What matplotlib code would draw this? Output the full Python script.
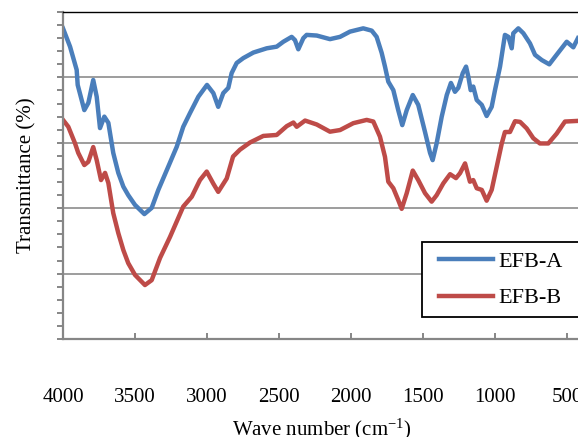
import numpy as np
import matplotlib
matplotlib.use("Agg")
import matplotlib.pyplot as plt
from matplotlib.ticker import MultipleLocator
from matplotlib.patches import Rectangle

plt.rcParams["font.family"] = "Liberation Serif"
plt.rcParams["mathtext.fontset"] = "custom"
plt.rcParams["mathtext.rm"] = "Liberation Serif"
plt.rcParams["mathtext.default"] = "regular"

# data (wave number, transmittance %)
wn_a = [4000, 3951, 3905, 3898, 3852, 3824, 3790, 3766, 3743, 3713, 3685, 3651,
        3616, 3581, 3547, 3500, 3435, 3384, 3338, 3269, 3210, 3165, 3118, 3060,
        3000, 2956, 2922, 2887, 2852, 2829, 2794, 2748, 2678, 2585, 2516, 2470,
        2412, 2389, 2366, 2331, 2308, 2238, 2146, 2076, 2007, 1915, 1856, 1822,
        1787, 1764, 1741, 1706, 1672, 1644, 1613, 1571, 1533, 1486, 1451, 1433,
        1405, 1370, 1335, 1306, 1278, 1255, 1224, 1201, 1185, 1169, 1151, 1127,
        1092, 1058, 1023, 1000, 965, 931, 907, 884, 873, 838, 803, 757, 722, 675,
        623, 583, 502, 456, 424]
t_a = [95.0, 89.4, 82.3, 77.7, 70.0, 72.2, 79.2, 74.1, 64.5, 68.0, 66.1, 56.9,
       50.8, 46.6, 44.0, 41.0, 38.2, 40.1, 45.6, 52.7, 58.8, 64.9, 69.1, 74.1,
       77.7, 75.2, 71.0, 75.2, 76.8, 81.3, 84.4, 85.9, 87.6, 88.9, 89.4, 90.9,
       92.4, 91.4, 88.6, 92.0, 93.0, 92.8, 91.7, 92.4, 94.0, 95.0, 94.3, 92.4,
       87.5, 83.3, 78.7, 76.1, 70.0, 65.4, 70.0, 74.6, 71.6, 63.3, 56.9, 54.7,
       59.9, 68.0, 74.6, 78.3, 75.6, 76.8, 81.3, 83.3, 80.2, 76.1, 77.2, 73.1,
       71.6, 68.2, 71.0, 76.1, 83.3, 93.0, 92.4, 88.9, 93.5, 95.0, 93.5, 90.4,
       86.9, 85.3, 84.0, 86.3, 90.9, 89.2, 92.0]

wn_b = [4000, 3963, 3917, 3894, 3852, 3824, 3790, 3766, 3736, 3708, 3685, 3651,
        3616, 3581, 3547, 3500, 3431, 3384, 3326, 3257, 3165, 3106, 3049, 3002,
        2956, 2922, 2863, 2819, 2771, 2701, 2609, 2516, 2446, 2400, 2377, 2319,
        2238, 2146, 2076, 1984, 1891, 1845, 1799, 1764, 1741, 1706, 1672, 1648,
        1613, 1571, 1533, 1486, 1440, 1405, 1359, 1312, 1271, 1243, 1208, 1174,
        1151, 1127, 1092, 1058, 1023, 988, 953, 931, 896, 861, 826, 780, 734,
        688, 630, 572, 514, 424]
t_b = [67.0, 64.9, 59.9, 56.9, 53.2, 54.2, 58.7, 54.7, 48.6, 50.8, 47.7, 38.5,
       32.4, 27.2, 23.2, 19.6, 16.5, 18.0, 24.8, 31.2, 40.5, 43.5, 48.6, 51.2,
       47.5, 45.0, 49.1, 55.8, 57.9, 60.1, 62.1, 62.4, 65.1, 66.2, 64.9, 66.8,
       65.6, 63.4, 63.9, 66.0, 67.0, 66.5, 61.9, 55.7, 48.1, 46.1, 42.5, 39.8,
       44.6, 51.5, 48.6, 44.6, 42.0, 44.0, 47.6, 50.4, 49.2, 50.7, 53.7, 48.1,
       48.6, 46.1, 45.6, 42.3, 45.6, 52.7, 59.8, 63.3, 63.3, 66.6, 66.4, 64.4,
       61.4, 59.8, 59.8, 62.8, 66.5, 66.7]

fig = plt.figure(figsize=(5.78, 4.37), dpi=100)
ax = fig.add_axes([63/578, 1-339/437, (581.4-63)/578, (339-12)/437])

ax.plot(wn_a, t_a, color="#4a7ebb", lw=3.2, label="EFB-A")
ax.plot(wn_b, t_b, color="#be4b48", lw=3.2, label="EFB-B")

ax.set_xlim(4000, 400)
ax.set_ylim(0, 100)
ax.set_xticks(np.arange(4000, 499, -500))
ax.yaxis.set_major_locator(MultipleLocator(20))
ax.yaxis.set_minor_locator(MultipleLocator(4))
ax.set_yticklabels([])
ax.grid(axis="y", color="#8c8c8c", lw=1.2)
ax.set_axisbelow(True)

grey = "#868686"
for s in ["left", "bottom"]:
    ax.spines[s].set_color(grey)
    ax.spines[s].set_linewidth(1.6)
ax.spines["top"].set_color("black")
ax.spines["top"].set_linewidth(1.0)
ax.spines["right"].set_visible(False)

ax.tick_params(axis="x", direction="in", length=4.5, width=1.4, color=grey,
               labelsize=15, pad=35)
ax.tick_params(axis="y", which="both", direction="out", length=4.5, width=1.4,
               color=grey)

ax.set_xlabel(r"Wave number (cm$^{-1}$)", fontsize=15, labelpad=7)
ax.set_ylabel("Transmittance (%)", fontsize=15, labelpad=11)

# legend box runs past the right edge, as in the original
box = Rectangle((422/578, 1-317/437), (600-422)/578, 75/437,
                transform=fig.transFigure, facecolor="white",
                edgecolor="black", lw=1.3, zorder=4, clip_on=False)
fig.add_artist(box)
leg = fig.legend(loc="center left", bbox_to_anchor=(439/578, 1-280/437),
                 fontsize=16, frameon=False, handlelength=2.45,
                 handletextpad=0.2, borderpad=0, labelspacing=0.7,
                 borderaxespad=0)
leg.set_zorder(5)
for h in leg.get_lines():
    h.set_linewidth(3.2)

fig.savefig("out.png", dpi=100)
